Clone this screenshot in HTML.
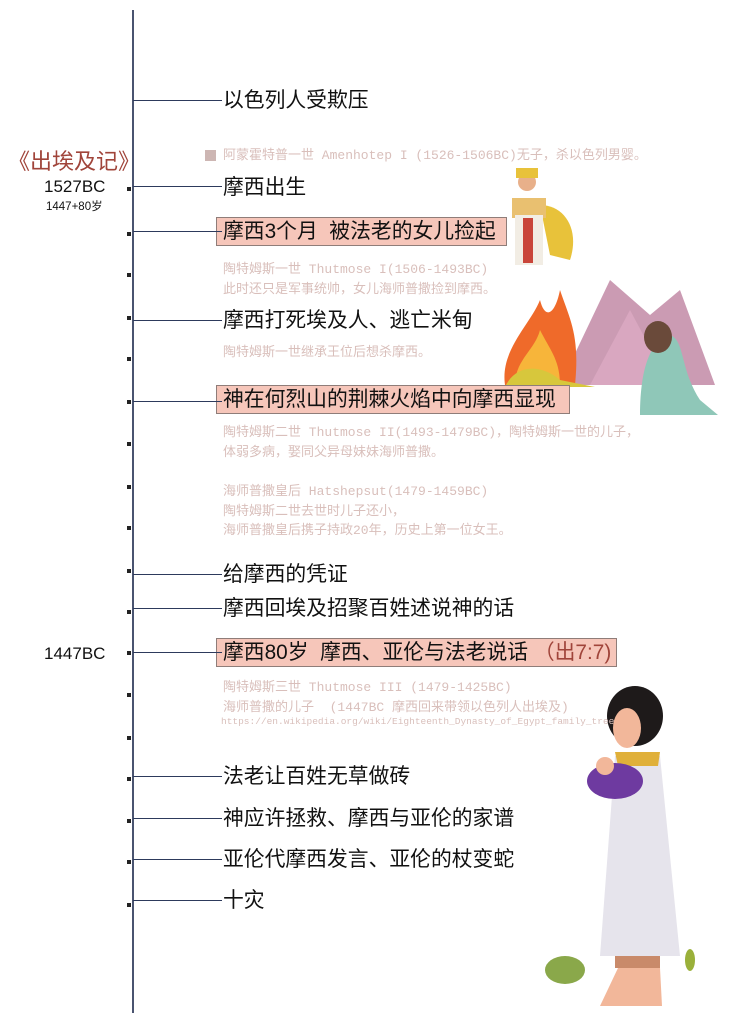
<!DOCTYPE html>
<html><head><meta charset="utf-8"><style>
body{margin:0;width:730px;height:1024px;background:#fff;position:relative;overflow:hidden;font-family:"Liberation Sans","Noto Sans CJK SC",sans-serif;}
.a{position:absolute;white-space:nowrap}
.vl{position:absolute;left:132px;top:10px;width:2px;height:1003px;background:#4a5470}
.h{position:absolute;left:133px;width:89px;height:1px;background:#2d3a5c}
.d{position:absolute;left:127px;width:4px;height:4px;background:#222}
.t{position:absolute;left:223px;font-size:20.8px;color:#111;white-space:nowrap;line-height:24px}
.box{position:absolute;left:216px;height:29px;background:#f6c6ba;border:1px solid #8f7d79;box-sizing:border-box}
.g{position:absolute;left:223px;font-size:13px;color:#d9bfbb;white-space:nowrap;line-height:19.5px;font-family:"Liberation Mono","Noto Sans CJK SC",monospace}
</style></head><body>
<div class="vl"></div>
<svg class="a" style="left:490px;top:160px" width="100" height="115">
<path d="M50 45 C75 45 90 70 80 100 L60 95 Z" fill="#e8c23a"/>
<rect x="22" y="38" width="34" height="20" fill="#e9c070"/>
<rect x="25" y="55" width="28" height="50" fill="#f2ede4"/>
<rect x="33" y="58" width="10" height="45" fill="#c9453a"/>
<circle cx="37" cy="22" r="9" fill="#e8b08a"/>
<rect x="26" y="8" width="22" height="10" fill="#e8c23a"/>
</svg>
<svg class="a" style="left:500px;top:275px" width="225" height="145">
<polygon points="60,110 110,5 150,40 180,15 215,110" fill="#b97a9a" opacity=".75"/>
<polygon points="90,110 130,35 170,110" fill="#d9a7c0"/>
<path d="M5 110 C0 75 30 50 40 25 C45 45 55 40 60 15 C70 45 80 60 75 110 Z" fill="#ef6a2a"/>
<path d="M15 110 C15 85 35 75 40 55 C50 75 60 85 60 110 Z" fill="#f7b53a"/>
<path d="M5 112 C15 90 40 88 60 105 L95 112 Z" fill="#d7c73c"/>
<path d="M140 140 C140 95 150 65 170 60 C185 65 180 95 200 125 L218 140 Z" fill="#8fc7b8"/>
<ellipse cx="158" cy="62" rx="14" ry="16" fill="#6a4a3a"/>
</svg>
<svg class="a" style="left:580px;top:686px" width="120" height="328">
<ellipse cx="55" cy="30" rx="28" ry="30" fill="#1e1a1a"/>
<ellipse cx="47" cy="42" rx="14" ry="20" fill="#f2b79a"/>
<path d="M35 70 L80 70 L100 270 L20 270 Z" fill="#e6e4ec"/>
<path d="M35 66 L80 66 L78 80 L38 80 Z" fill="#e0b03a"/>
<ellipse cx="35" cy="95" rx="28" ry="18" fill="#6e3aa0"/>
<circle cx="25" cy="80" r="9" fill="#f2b79a"/>
<rect x="35" y="270" width="45" height="12" fill="#c98a6a"/>
<path d="M38 282 L80 282 L82 320 L20 320 Z" fill="#f2b79a"/>
</svg>
<svg class="a" style="left:540px;top:950px" width="50" height="40"><ellipse cx="25" cy="20" rx="20" ry="14" fill="#8aa84a"/></svg>
<svg class="a" style="left:680px;top:945px" width="20" height="30"><ellipse cx="10" cy="15" rx="5" ry="11" fill="#9ab03a"/></svg>
<div class="box" style="top:217px;width:291px"></div>
<div class="box" style="top:385px;width:354px"></div>
<div class="box" style="top:638px;width:401px"></div>
<div class="h" style="top:100px"></div><div class="h" style="top:186px"></div><div class="h" style="top:231px"></div>
<div class="h" style="top:320px"></div><div class="h" style="top:401px"></div><div class="h" style="top:574px"></div>
<div class="h" style="top:608px"></div><div class="h" style="top:652px"></div><div class="h" style="top:776px"></div>
<div class="h" style="top:818px"></div><div class="h" style="top:859px"></div><div class="h" style="top:900px"></div>
<div class="d" style="top:187px"></div><div class="d" style="top:232px"></div><div class="d" style="top:273px"></div>
<div class="d" style="top:316px"></div><div class="d" style="top:357px"></div><div class="d" style="top:400px"></div>
<div class="d" style="top:442px"></div><div class="d" style="top:485px"></div><div class="d" style="top:526px"></div>
<div class="d" style="top:569px"></div><div class="d" style="top:610px"></div><div class="d" style="top:651px"></div>
<div class="d" style="top:693px"></div><div class="d" style="top:736px"></div><div class="d" style="top:777px"></div>
<div class="d" style="top:819px"></div><div class="d" style="top:860px"></div><div class="d" style="top:903px"></div>
<div class="a" style="left:8px;top:144px;font-size:22px;color:#a0443a">《出埃及记》</div>
<div class="a" style="left:44px;top:177px;font-size:17px;color:#111">1527BC</div>
<div class="a" style="left:46px;top:198px;font-size:11.5px;color:#111">1447+80岁</div>
<div class="a" style="left:44px;top:644px;font-size:17px;color:#111">1447BC</div>
<div class="t" style="top:89px">以色列人受欺压</div>
<div class="t" style="top:176px">摩西出生</div>
<div class="t" style="top:220px">摩西3个月&nbsp;&nbsp;被法老的女儿捡起</div>
<div class="t" style="top:309px">摩西打死埃及人、逃亡米甸</div>
<div class="t" style="top:388px">神在何烈山的荆棘火焰中向摩西显现</div>
<div class="t" style="top:563px">给摩西的凭证</div>
<div class="t" style="top:597px">摩西回埃及招聚百姓述说神的话</div>
<div class="t" style="top:641px">摩西80岁&nbsp;&nbsp;摩西、亚伦与法老说话&nbsp;<span style="color:#a0443a">（出7:7)</span></div>
<div class="t" style="top:765px">法老让百姓无草做砖</div>
<div class="t" style="top:807px">神应许拯救、摩西与亚伦的家谱</div>
<div class="t" style="top:848px">亚伦代摩西发言、亚伦的杖变蛇</div>
<div class="t" style="top:889px">十灾</div>
<div class="a" style="left:205px;top:150px;width:11px;height:11px;background:#cdb6b3"></div>
<div class="g" style="top:146px">阿蒙霍特普一世 Amenhotep I (1526-1506BC)无子，杀以色列男婴。</div>
<div class="g" style="top:260px">陶特姆斯一世 Thutmose I(1506-1493BC)<br>此时还只是军事统帅，女儿海师普撒捡到摩西。</div>
<div class="g" style="top:343px">陶特姆斯一世继承王位后想杀摩西。</div>
<div class="g" style="top:423px">陶特姆斯二世 Thutmose II(1493-1479BC)，陶特姆斯一世的儿子，<br>体弱多病，娶同父异母妹妹海师普撒。</div>
<div class="g" style="top:482px">海师普撒皇后 Hatshepsut(1479-1459BC)<br>陶特姆斯二世去世时儿子还小，<br>海师普撒皇后携子持政20年，历史上第一位女王。</div>
<div class="g" style="top:678px">陶特姆斯三世 Thutmose III (1479-1425BC)<br>海师普撒的儿子&nbsp;&nbsp;(1447BC 摩西回来带领以色列人出埃及)</div>
<div class="a" style="left:221px;top:716px;font-size:9.5px;color:#d9bfbb;font-family:'Liberation Mono',monospace">https://en.wikipedia.org/wiki/Eighteenth_Dynasty_of_Egypt_family_tree</div>
</body></html>
